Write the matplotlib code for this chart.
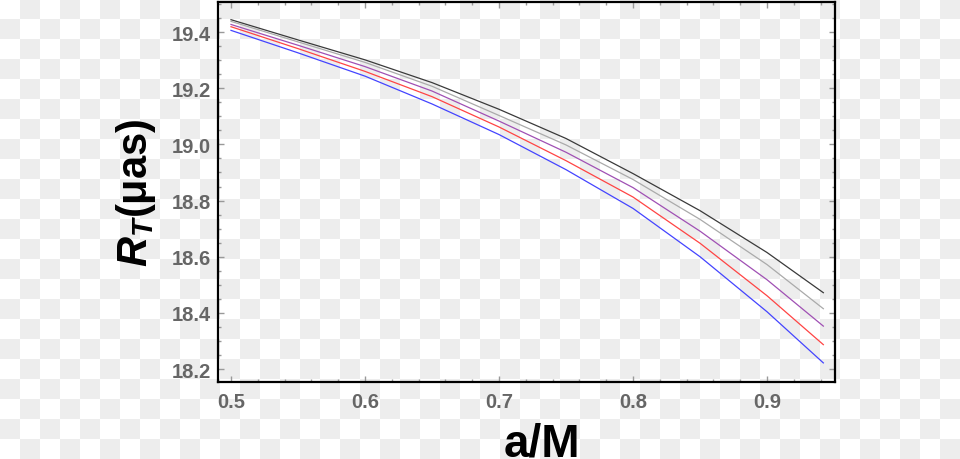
import numpy as np
import matplotlib
matplotlib.use("Agg")
import matplotlib.pyplot as plt
from matplotlib.ticker import MultipleLocator, FormatStrFormatter

# values (a/M vs R_T in micro-arcsec)
spin = [0.5, 0.55, 0.6, 0.65, 0.7, 0.75, 0.8, 0.85, 0.9, 0.942]
r_black = [19.444, 19.372, 19.301, 19.220, 19.125, 19.021, 18.896, 18.764, 18.615, 18.472]
r_gray = [19.438, 19.365, 19.292, 19.207, 19.103, 18.998, 18.875, 18.733, 18.572, 18.415]
r_purple = [19.427, 19.353, 19.277, 19.190, 19.083, 18.972, 18.846, 18.691, 18.518, 18.353]
r_red = [19.419, 19.341, 19.260, 19.170, 19.062, 18.942, 18.8125, 18.648, 18.461, 18.287]
r_blue = [19.406, 19.326, 19.243, 19.144, 19.035, 18.910, 18.772, 18.600, 18.404, 18.222]

plt.rcParams['font.family'] = ['Liberation Sans', 'DejaVu Sans']
plt.rcParams['mathtext.fontset'] = 'custom'
plt.rcParams['mathtext.it'] = 'Liberation Sans:italic:bold'
plt.rcParams['mathtext.rm'] = 'Liberation Sans:bold'
plt.rcParams['mathtext.bf'] = 'Liberation Sans:bold'

fig = plt.figure(figsize=(9.6, 4.6), dpi=100)
fig.patch.set_facecolor('white')

# checkerboard backdrop like the reference image
h, w = 460, 960
yy, xx = np.mgrid[0:h, 0:w]
board = np.where(((xx // 20) + (yy // 20)) % 2 == 1, 0.933, 1.0)
fig.figimage(np.dstack([board, board, board]), 0, 0, origin='upper', zorder=-5)

ax = fig.add_axes([218 / 960, 1 - 383 / 460, 617 / 960, 380 / 460])
ax.set_facecolor('none')

ax.plot(spin, r_black, color='#3a3a3a', lw=0.9)
ax.plot(spin, r_gray, color='#aaaaaa', lw=0.9)
ax.plot(spin, r_purple, color='#a050b4', lw=0.9)
ax.plot(spin, r_red, color='#ff4444', lw=0.9)
ax.plot(spin, r_blue, color='#4444ff', lw=0.9)

ax.set_xlim(0.4903, 0.9507)
ax.set_ylim(18.154, 19.507)
ax.xaxis.set_major_locator(MultipleLocator(0.1))
ax.xaxis.set_minor_locator(MultipleLocator(0.02))
ax.yaxis.set_major_locator(MultipleLocator(0.2))
ax.yaxis.set_minor_locator(MultipleLocator(0.05))
ax.xaxis.set_major_formatter(FormatStrFormatter('%.1f'))
ax.yaxis.set_major_formatter(FormatStrFormatter('%.1f'))

ax.tick_params(which='both', direction='in', top=True, right=True, color='#999999', width=1)
ax.tick_params(which='major', length=4)
ax.tick_params(which='minor', length=2)
ax.tick_params(axis='y', pad=5)
ax.tick_params(axis='x', pad=7)
for lab in ax.get_xticklabels() + ax.get_yticklabels():
    lab.set_color('#666666')
    lab.set_fontweight('bold')
    lab.set_fontsize(14.5)

for sp in ax.spines.values():
    sp.set_linewidth(1.6)
    sp.set_color('black')

ax.set_xlabel('a/M', fontsize=33, fontweight='bold', color='black')
ax.xaxis.set_label_coords(0.525, -(457 - 383) / 380, transform=ax.transAxes)
ax.xaxis.label.set_verticalalignment('baseline')
ax.set_ylabel(r'$R_T$(μas)', fontsize=30, fontweight='bold', color='black', labelpad=10)

fig.savefig('out.png', dpi=100)
